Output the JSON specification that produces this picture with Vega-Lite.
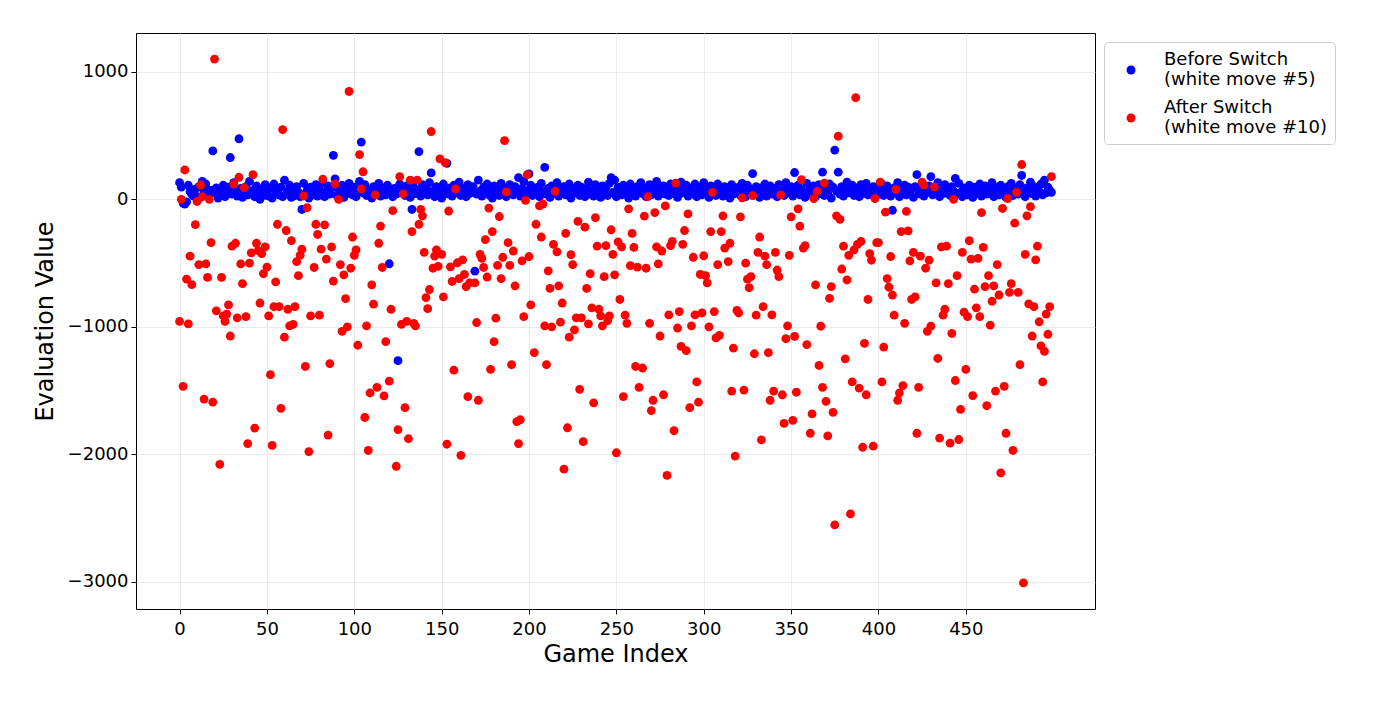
{
  "$schema": "https://vega.github.io/schema/vega-lite/v6.json",
  "description": "Evaluation value per game, before and after the switch",
  "width": 959,
  "height": 576,
  "autosize": {"type": "none"},
  "padding": {"left": 136, "top": 33, "right": 278, "bottom": 94},
  "config": {
    "font": "DejaVu Sans",
    "view": {"stroke": "black", "strokeWidth": 1},
    "axis": {
      "labelFontSize": 18,
      "labelColor": "black",
      "titleFontSize": 24,
      "titleFontWeight": "normal",
      "titleColor": "black",
      "domain": false,
      "tickColor": "black",
      "tickSize": 5,
      "gridColor": "#e6e6e6",
      "gridWidth": 0.8
    }
  },
  "datasets": {
    "before": [
      {"game":0,"value":130},{"game":1,"value":95},{"game":2,"value":-30},{"game":3,"value":-37},{"game":4,"value":-20},{"game":5,"value":110},{"game":6,"value":60},{"game":7,"value":40},{"game":8,"value":25},{"game":9,"value":80},
      {"game":10,"value":20},{"game":11,"value":100},{"game":12,"value":15},{"game":13,"value":140},{"game":14,"value":60},{"game":15,"value":120},{"game":16,"value":30},{"game":17,"value":45},{"game":18,"value":70},{"game":19,"value":380},
      {"game":20,"value":50},{"game":21,"value":90},{"game":22,"value":10},{"game":23,"value":35},{"game":24,"value":75},{"game":25,"value":110},{"game":26,"value":20},{"game":27,"value":55},{"game":28,"value":95},{"game":29,"value":328},
      {"game":30,"value":40},{"game":31,"value":130},{"game":32,"value":65},{"game":33,"value":25},{"game":34,"value":475},{"game":35,"value":85},{"game":36,"value":15},{"game":37,"value":60},{"game":38,"value":100},{"game":39,"value":35},
      {"game":40,"value":140},{"game":41,"value":45},{"game":42,"value":70},{"game":43,"value":20},{"game":44,"value":105},{"game":45,"value":55},{"game":46,"value":0},{"game":47,"value":80},{"game":48,"value":30},{"game":49,"value":115},
      {"game":50,"value":60},{"game":51,"value":25},{"game":52,"value":90},{"game":53,"value":10},{"game":54,"value":120},{"game":55,"value":50},{"game":56,"value":75},{"game":57,"value":35},{"game":58,"value":95},{"game":59,"value":20},
      {"game":60,"value":150},{"game":61,"value":40},{"game":62,"value":65},{"game":63,"value":110},{"game":64,"value":15},{"game":65,"value":85},{"game":66,"value":30},{"game":67,"value":100},{"game":68,"value":55},{"game":69,"value":20},
      {"game":70,"value":-80},{"game":71,"value":125},{"game":72,"value":45},{"game":73,"value":70},{"game":74,"value":10},{"game":75,"value":95},{"game":76,"value":60},{"game":77,"value":35},{"game":78,"value":115},{"game":79,"value":25},
      {"game":80,"value":80},{"game":81,"value":50},{"game":82,"value":130},{"game":83,"value":20},{"game":84,"value":65},{"game":85,"value":105},{"game":86,"value":40},{"game":87,"value":90},{"game":88,"value":345},{"game":89,"value":160},
      {"game":90,"value":30},{"game":91,"value":75},{"game":92,"value":55},{"game":93,"value":110},{"game":94,"value":15},{"game":95,"value":85},{"game":96,"value":45},{"game":97,"value":125},{"game":98,"value":60},{"game":99,"value":35},
      {"game":100,"value":95},{"game":101,"value":20},{"game":102,"value":70},{"game":103,"value":140},{"game":104,"value":449},{"game":105,"value":50},{"game":106,"value":115},{"game":107,"value":30},{"game":108,"value":80},{"game":109,"value":60},
      {"game":110,"value":10},{"game":111,"value":100},{"game":112,"value":45},{"game":113,"value":75},{"game":114,"value":125},{"game":115,"value":25},{"game":116,"value":90},{"game":117,"value":55},{"game":118,"value":35},{"game":119,"value":110},
      {"game":120,"value":-506},{"game":121,"value":65},{"game":122,"value":20},{"game":123,"value":85},{"game":124,"value":40},{"game":125,"value":-1266},{"game":126,"value":120},{"game":127,"value":50},{"game":128,"value":75},{"game":129,"value":30},
      {"game":130,"value":105},{"game":131,"value":60},{"game":132,"value":15},{"game":133,"value":-80},{"game":134,"value":95},{"game":135,"value":45},{"game":136,"value":70},{"game":137,"value":374},{"game":138,"value":25},{"game":139,"value":115},
      {"game":140,"value":55},{"game":141,"value":85},{"game":142,"value":35},{"game":143,"value":130},{"game":144,"value":207},{"game":145,"value":65},{"game":146,"value":20},{"game":147,"value":100},{"game":148,"value":45},{"game":149,"value":80},
      {"game":150,"value":10},{"game":151,"value":120},{"game":152,"value":60},{"game":153,"value":282},{"game":154,"value":40},{"game":155,"value":90},{"game":156,"value":25},{"game":157,"value":110},{"game":158,"value":70},{"game":159,"value":50},
      {"game":160,"value":135},{"game":161,"value":30},{"game":162,"value":85},{"game":163,"value":60},{"game":164,"value":20},{"game":165,"value":115},{"game":166,"value":45},{"game":167,"value":75},{"game":168,"value":100},{"game":169,"value":-564},
      {"game":170,"value":40},{"game":171,"value":150},{"game":172,"value":65},{"game":173,"value":25},{"game":174,"value":95},{"game":175,"value":55},{"game":176,"value":120},{"game":177,"value":35},{"game":178,"value":80},{"game":179,"value":10},
      {"game":180,"value":105},{"game":181,"value":50},{"game":182,"value":70},{"game":183,"value":30},{"game":184,"value":125},{"game":185,"value":60},{"game":186,"value":90},{"game":187,"value":20},{"game":188,"value":45},{"game":189,"value":115},
      {"game":190,"value":75},{"game":191,"value":35},{"game":192,"value":100},{"game":193,"value":55},{"game":194,"value":170},{"game":195,"value":25},{"game":196,"value":85},{"game":197,"value":140},{"game":198,"value":40},{"game":199,"value":65},
      {"game":200,"value":200},{"game":201,"value":110},{"game":202,"value":30},{"game":203,"value":80},{"game":204,"value":50},{"game":205,"value":95},{"game":206,"value":20},{"game":207,"value":125},{"game":208,"value":60},{"game":209,"value":250},
      {"game":210,"value":40},{"game":211,"value":85},{"game":212,"value":15},{"game":213,"value":105},{"game":214,"value":70},{"game":215,"value":45},{"game":216,"value":130},{"game":217,"value":25},{"game":218,"value":90},{"game":219,"value":55},
      {"game":220,"value":100},{"game":221,"value":35},{"game":222,"value":75},{"game":223,"value":120},{"game":224,"value":10},{"game":225,"value":85},{"game":226,"value":50},{"game":227,"value":65},{"game":228,"value":110},{"game":229,"value":30},
      {"game":230,"value":95},{"game":231,"value":55},{"game":232,"value":20},{"game":233,"value":80},{"game":234,"value":135},{"game":235,"value":40},{"game":236,"value":70},{"game":237,"value":25},{"game":238,"value":115},{"game":239,"value":60},
      {"game":240,"value":90},{"game":241,"value":15},{"game":242,"value":105},{"game":243,"value":45},{"game":244,"value":80},{"game":245,"value":30},{"game":246,"value":125},{"game":247,"value":170},{"game":248,"value":55},{"game":249,"value":150},
      {"game":250,"value":20},{"game":251,"value":95},{"game":252,"value":65},{"game":253,"value":35},{"game":254,"value":110},{"game":255,"value":50},{"game":256,"value":85},{"game":257,"value":10},{"game":258,"value":120},{"game":259,"value":40},
      {"game":260,"value":75},{"game":261,"value":25},{"game":262,"value":100},{"game":263,"value":60},{"game":264,"value":130},{"game":265,"value":45},{"game":266,"value":90},{"game":267,"value":20},{"game":268,"value":70},{"game":269,"value":115},
      {"game":270,"value":35},{"game":271,"value":85},{"game":272,"value":55},{"game":273,"value":140},{"game":274,"value":25},{"game":275,"value":95},{"game":276,"value":60},{"game":277,"value":105},{"game":278,"value":40},{"game":279,"value":80},
      {"game":280,"value":30},{"game":281,"value":120},{"game":282,"value":65},{"game":283,"value":45},{"game":284,"value":100},{"game":285,"value":15},{"game":286,"value":85},{"game":287,"value":135},{"game":288,"value":50},{"game":289,"value":75},
      {"game":290,"value":110},{"game":291,"value":25},{"game":292,"value":90},{"game":293,"value":60},{"game":294,"value":40},{"game":295,"value":120},{"game":296,"value":20},{"game":297,"value":70},{"game":298,"value":95},{"game":299,"value":35},
      {"game":300,"value":130},{"game":301,"value":55},{"game":302,"value":80},{"game":303,"value":15},{"game":304,"value":105},{"game":305,"value":45},{"game":306,"value":70},{"game":307,"value":30},{"game":308,"value":120},{"game":309,"value":60},
      {"game":310,"value":90},{"game":311,"value":25},{"game":312,"value":100},{"game":313,"value":50},{"game":314,"value":85},{"game":315,"value":10},{"game":316,"value":115},{"game":317,"value":40},{"game":318,"value":75},{"game":319,"value":55},
      {"game":320,"value":95},{"game":321,"value":30},{"game":322,"value":125},{"game":323,"value":65},{"game":324,"value":20},{"game":325,"value":110},{"game":326,"value":45},{"game":327,"value":80},{"game":328,"value":201},{"game":329,"value":35},
      {"game":330,"value":100},{"game":331,"value":60},{"game":332,"value":15},{"game":333,"value":90},{"game":334,"value":50},{"game":335,"value":120},{"game":336,"value":25},{"game":337,"value":75},{"game":338,"value":105},{"game":339,"value":40},
      {"game":340,"value":85},{"game":341,"value":60},{"game":342,"value":20},{"game":343,"value":115},{"game":344,"value":45},{"game":345,"value":95},{"game":346,"value":30},{"game":347,"value":130},{"game":348,"value":70},{"game":349,"value":50},
      {"game":350,"value":100},{"game":351,"value":25},{"game":352,"value":210},{"game":353,"value":65},{"game":354,"value":110},{"game":355,"value":35},{"game":356,"value":80},{"game":357,"value":55},{"game":358,"value":15},{"game":359,"value":125},
      {"game":360,"value":40},{"game":361,"value":90},{"game":362,"value":60},{"game":363,"value":105},{"game":364,"value":20},{"game":365,"value":75},{"game":366,"value":115},{"game":367,"value":45},{"game":368,"value":213},{"game":369,"value":30},
      {"game":370,"value":85},{"game":371,"value":55},{"game":372,"value":120},{"game":373,"value":10},{"game":374,"value":95},{"game":375,"value":386},{"game":376,"value":65},{"game":377,"value":213},{"game":378,"value":40},{"game":379,"value":100},
      {"game":380,"value":25},{"game":381,"value":80},{"game":382,"value":135},{"game":383,"value":50},{"game":384,"value":70},{"game":385,"value":110},{"game":386,"value":30},{"game":387,"value":90},{"game":388,"value":60},{"game":389,"value":20},
      {"game":390,"value":115},{"game":391,"value":45},{"game":392,"value":85},{"game":393,"value":125},{"game":394,"value":35},{"game":395,"value":75},{"game":396,"value":55},{"game":397,"value":100},{"game":398,"value":15},{"game":399,"value":95},
      {"game":400,"value":65},{"game":401,"value":40},{"game":402,"value":120},{"game":403,"value":30},{"game":404,"value":80},{"game":405,"value":105},{"game":406,"value":50},{"game":407,"value":25},{"game":408,"value":-86},{"game":409,"value":90},
      {"game":410,"value":60},{"game":411,"value":130},{"game":412,"value":20},{"game":413,"value":75},{"game":414,"value":45},{"game":415,"value":110},{"game":416,"value":35},{"game":417,"value":95},{"game":418,"value":55},{"game":419,"value":85},
      {"game":420,"value":15},{"game":421,"value":100},{"game":422,"value":193},{"game":423,"value":65},{"game":424,"value":40},{"game":425,"value":120},{"game":426,"value":25},{"game":427,"value":80},{"game":428,"value":55},{"game":429,"value":105},
      {"game":430,"value":178},{"game":431,"value":35},{"game":432,"value":90},{"game":433,"value":60},{"game":434,"value":130},{"game":435,"value":20},{"game":436,"value":70},{"game":437,"value":45},{"game":438,"value":115},{"game":439,"value":50},
      {"game":440,"value":85},{"game":441,"value":30},{"game":442,"value":100},{"game":443,"value":65},{"game":444,"value":164},{"game":445,"value":40},{"game":446,"value":125},{"game":447,"value":55},{"game":448,"value":20},{"game":449,"value":90},
      {"game":450,"value":75},{"game":451,"value":35},{"game":452,"value":110},{"game":453,"value":60},{"game":454,"value":15},{"game":455,"value":95},{"game":456,"value":45},{"game":457,"value":80},{"game":458,"value":120},{"game":459,"value":25},
      {"game":460,"value":70},{"game":461,"value":105},{"game":462,"value":40},{"game":463,"value":85},{"game":464,"value":55},{"game":465,"value":130},{"game":466,"value":20},{"game":467,"value":95},{"game":468,"value":60},{"game":469,"value":35},
      {"game":470,"value":110},{"game":471,"value":45},{"game":472,"value":75},{"game":473,"value":15},{"game":474,"value":100},{"game":475,"value":50},{"game":476,"value":125},{"game":477,"value":30},{"game":478,"value":85},{"game":479,"value":65},
      {"game":480,"value":40},{"game":481,"value":115},{"game":482,"value":187},{"game":483,"value":55},{"game":484,"value":20},{"game":485,"value":90},{"game":486,"value":70},{"game":487,"value":135},{"game":488,"value":45},{"game":489,"value":100},
      {"game":490,"value":25},{"game":491,"value":80},{"game":492,"value":60},{"game":493,"value":120},{"game":494,"value":35},{"game":495,"value":150},{"game":496,"value":50},{"game":497,"value":95},{"game":498,"value":70},{"game":499,"value":55}
    ],
    "after": [
      {"game":0,"value":-958},{"game":1,"value":0},{"game":2,"value":-1468},{"game":3,"value":230},{"game":4,"value":-627},{"game":5,"value":-978},{"game":6,"value":-446},{"game":7,"value":-670},{"game":9,"value":-199},
      {"game":10,"value":-17},{"game":11,"value":-512},{"game":12,"value":112},{"game":13,"value":20},{"game":14,"value":-1568},{"game":15,"value":-507},{"game":16,"value":-613},{"game":17,"value":0},{"game":18,"value":-340},{"game":19,"value":-1592},
      {"game":20,"value":1100},{"game":21,"value":-875},{"game":23,"value":-2080},{"game":24,"value":-613},{"game":25,"value":-915},{"game":26,"value":-958},{"game":27,"value":-901},{"game":28,"value":-829},{"game":29,"value":-1073},
      {"game":30,"value":-368},{"game":31,"value":120},{"game":32,"value":-345},{"game":33,"value":-930},{"game":34,"value":173},{"game":35,"value":-507},{"game":36,"value":-662},{"game":37,"value":92},{"game":38,"value":-921},{"game":39,"value":-1917},
      {"game":40,"value":-501},{"game":41,"value":-420},{"game":42,"value":193},{"game":43,"value":-1795},{"game":44,"value":-345},{"game":45,"value":-403},{"game":46,"value":-814},{"game":47,"value":-426},{"game":48,"value":-584},{"game":49,"value":-374},
      {"game":50,"value":-532},{"game":51,"value":-915},{"game":52,"value":-1376},{"game":53,"value":-1931},{"game":54,"value":-843},{"game":55,"value":-648},{"game":56,"value":-196},{"game":57,"value":-843},{"game":58,"value":-1640},{"game":59,"value":547},
      {"game":60,"value":-1082},{"game":61,"value":-245},{"game":62,"value":-863},{"game":63,"value":-993},{"game":64,"value":-325},{"game":65,"value":-981},{"game":66,"value":-843},{"game":67,"value":-489},{"game":68,"value":-599},{"game":69,"value":-440},
      {"game":70,"value":-391},{"game":71,"value":26},{"game":72,"value":-1312},{"game":73,"value":-66},{"game":74,"value":-1980},{"game":75,"value":-915},{"game":77,"value":-535},{"game":78,"value":-196},{"game":79,"value":-276},
      {"game":80,"value":-909},{"game":81,"value":-391},{"game":82,"value":158},{"game":83,"value":-201},{"game":84,"value":-469},{"game":85,"value":-1850},{"game":86,"value":-1289},{"game":87,"value":-374},{"game":88,"value":-642},{"game":89,"value":121},
      {"game":91,"value":0},{"game":92,"value":-512},{"game":93,"value":-1036},{"game":94,"value":-593},{"game":95,"value":-780},{"game":96,"value":-1001},{"game":97,"value":846},{"game":98,"value":-541},{"game":99,"value":-296},
      {"game":100,"value":-440},{"game":101,"value":-397},{"game":102,"value":-1145},{"game":103,"value":351},{"game":104,"value":81},{"game":105,"value":216},{"game":106,"value":-1712},{"game":107,"value":-993},{"game":108,"value":-1971},{"game":109,"value":-1520},
      {"game":110,"value":-671},{"game":111,"value":-823},{"game":112,"value":35},{"game":113,"value":-1476},{"game":114,"value":-345},{"game":115,"value":-210},{"game":116,"value":-535},{"game":117,"value":-1543},{"game":118,"value":-1117},
      {"game":120,"value":-1427},{"game":121,"value":-863},{"game":122,"value":-89},{"game":124,"value":-2095},{"game":125,"value":-1807},{"game":126,"value":178},{"game":127,"value":-981},{"game":128,"value":43},{"game":129,"value":-1635},
      {"game":130,"value":-958},{"game":131,"value":-1879},{"game":132,"value":150},{"game":133,"value":-253},{"game":134,"value":-973},{"game":135,"value":-993},{"game":136,"value":150},{"game":137,"value":-196},{"game":138,"value":-80},{"game":139,"value":-130},
      {"game":140,"value":-417},{"game":141,"value":-771},{"game":142,"value":-858},{"game":143,"value":-708},{"game":144,"value":532},{"game":145,"value":-541},{"game":146,"value":-446},{"game":147,"value":-397},{"game":148,"value":-527},{"game":149,"value":317},
      {"game":150,"value":-432},{"game":151,"value":-766},{"game":152,"value":288},{"game":153,"value":-1922},{"game":154,"value":-92},{"game":155,"value":-530},{"game":156,"value":-645},{"game":157,"value":-1341},{"game":158,"value":81},{"game":159,"value":-498},
      {"game":160,"value":-622},{"game":161,"value":-2009},{"game":162,"value":-475},{"game":163,"value":-590},{"game":164,"value":-685},{"game":165,"value":-1548},{"game":166,"value":-656},{"game":169,"value":-656},
      {"game":170,"value":-967},{"game":171,"value":-1577},{"game":172,"value":-432},{"game":173,"value":-463},{"game":174,"value":-535},{"game":175,"value":-317},{"game":176,"value":-610},{"game":177,"value":-69},{"game":178,"value":-1335},{"game":179,"value":-253},
      {"game":180,"value":-1117},{"game":181,"value":-933},{"game":182,"value":-518},{"game":183,"value":-135},{"game":184,"value":-622},{"game":185,"value":-455},{"game":186,"value":460},{"game":187,"value":58},{"game":188,"value":-340},{"game":189,"value":-518},
      {"game":190,"value":-1298},{"game":191,"value":-406},{"game":192,"value":-679},{"game":193,"value":-1744},{"game":194,"value":-1917},{"game":195,"value":-1730},{"game":196,"value":-483},{"game":197,"value":-921},{"game":198,"value":-9},{"game":199,"value":193},
      {"game":200,"value":-449},{"game":201,"value":-829},{"game":203,"value":-1203},{"game":204,"value":-196},{"game":206,"value":-52},{"game":207,"value":-296},{"game":208,"value":-37},{"game":209,"value":-993},
      {"game":210,"value":-1298},{"game":211,"value":-561},{"game":212,"value":-699},{"game":213,"value":-1001},{"game":214,"value":-354},{"game":215,"value":63},{"game":216,"value":-412},{"game":217,"value":-679},{"game":218,"value":-964},{"game":219,"value":-814},
      {"game":220,"value":-2118},{"game":221,"value":-268},{"game":222,"value":-1793},{"game":223,"value":-1082},{"game":224,"value":-435},{"game":225,"value":-512},{"game":226,"value":-1024},{"game":227,"value":-930},{"game":228,"value":-173},{"game":229,"value":-1491},
      {"game":230,"value":-930},{"game":231,"value":-1902},{"game":232,"value":-219},{"game":233,"value":-699},{"game":234,"value":-978},{"game":235,"value":-584},{"game":236,"value":-852},{"game":237,"value":-1597},{"game":238,"value":-144},{"game":239,"value":-368},
      {"game":240,"value":-863},{"game":241,"value":-915},{"game":242,"value":-993},{"game":243,"value":-607},{"game":244,"value":-363},{"game":245,"value":-953},{"game":246,"value":-915},{"game":247,"value":-239},{"game":248,"value":-432},{"game":249,"value":-593},
      {"game":250,"value":-1989},{"game":251,"value":-334},{"game":252,"value":-786},{"game":253,"value":-374},{"game":254,"value":-1548},{"game":255,"value":-909},{"game":256,"value":-973},{"game":257,"value":-75},{"game":258,"value":-521},{"game":259,"value":-268},
      {"game":260,"value":-377},{"game":261,"value":-1312},{"game":262,"value":-532},{"game":263,"value":-1476},{"game":265,"value":-1324},{"game":266,"value":-132},{"game":267,"value":-541},{"game":268,"value":20},{"game":269,"value":-973},
      {"game":270,"value":-1658},{"game":271,"value":-1577},{"game":272,"value":-104},{"game":273,"value":-374},{"game":274,"value":-507},{"game":275,"value":-1073},{"game":276,"value":-406},{"game":277,"value":-1534},{"game":278,"value":-52},{"game":279,"value":-2167},
      {"game":280,"value":-907},{"game":281,"value":-363},{"game":282,"value":-331},{"game":283,"value":-1816},{"game":284,"value":127},{"game":285,"value":-1010},{"game":286,"value":-881},{"game":287,"value":-1154},{"game":288,"value":-354},{"game":289,"value":-245},
      {"game":290,"value":-1188},{"game":291,"value":-115},{"game":292,"value":-1635},{"game":293,"value":-993},{"game":294,"value":-455},{"game":295,"value":-907},{"game":296,"value":-1433},{"game":297,"value":-1592},{"game":298,"value":-590},{"game":299,"value":-892},
      {"game":300,"value":-443},{"game":301,"value":-599},{"game":302,"value":-656},{"game":303,"value":-1001},{"game":304,"value":-253},{"game":305,"value":55},{"game":306,"value":-881},{"game":307,"value":-1088},{"game":308,"value":-512},{"game":309,"value":-1068},
      {"game":310,"value":-253},{"game":311,"value":-130},{"game":312,"value":-383},{"game":314,"value":-489},{"game":315,"value":-345},{"game":316,"value":-1505},{"game":317,"value":-1168},{"game":318,"value":-2015},{"game":319,"value":-872},
      {"game":320,"value":-892},{"game":321,"value":-138},{"game":322,"value":12},{"game":323,"value":-1497},{"game":324,"value":-501},{"game":325,"value":-627},{"game":326,"value":-694},{"game":327,"value":-607},{"game":328,"value":29},{"game":329,"value":-1212},
      {"game":330,"value":-909},{"game":331,"value":-417},{"game":332,"value":-296},{"game":333,"value":-1888},{"game":334,"value":-843},{"game":335,"value":-446},{"game":336,"value":-512},{"game":337,"value":-1203},{"game":338,"value":-1577},{"game":339,"value":-907},
      {"game":340,"value":-1505},{"game":341,"value":-417},{"game":342,"value":-555},{"game":343,"value":-607},{"game":344,"value":35},{"game":345,"value":-1534},{"game":346,"value":-1758},{"game":347,"value":-1094},{"game":348,"value":-993},{"game":349,"value":-440},
      {"game":350,"value":-138},{"game":351,"value":-1735},{"game":352,"value":-1076},{"game":353,"value":-1514},{"game":354,"value":-75},{"game":355,"value":-210},{"game":356,"value":155},{"game":357,"value":-383},{"game":358,"value":-363},{"game":359,"value":-1140},
      {"game":361,"value":-1836},{"game":362,"value":-1684},{"game":363,"value":6},{"game":364,"value":-671},{"game":365,"value":63},{"game":366,"value":-1304},{"game":367,"value":-996},{"game":368,"value":-1476},{"game":369,"value":127},
      {"game":370,"value":-1586},{"game":371,"value":-1856},{"game":372,"value":-777},{"game":373,"value":-685},{"game":374,"value":-1672},{"game":375,"value":-2555},{"game":376,"value":-130},{"game":377,"value":495},{"game":378,"value":-158},{"game":379,"value":-547},
      {"game":380,"value":-368},{"game":381,"value":-1252},{"game":382,"value":-633},{"game":383,"value":-440},{"game":384,"value":-2469},{"game":385,"value":-1433},{"game":386,"value":-397},{"game":387,"value":797},{"game":388,"value":-354},{"game":389,"value":-1482},
      {"game":390,"value":-331},{"game":391,"value":-1946},{"game":392,"value":-1131},{"game":393,"value":-1534},{"game":394,"value":-786},{"game":395,"value":-426},{"game":396,"value":-478},{"game":397,"value":-1937},{"game":398,"value":6},{"game":399,"value":-340},
      {"game":400,"value":-340},{"game":401,"value":135},{"game":402,"value":-1433},{"game":403,"value":-1160},{"game":404,"value":-101},{"game":405,"value":-622},{"game":406,"value":-690},{"game":407,"value":-449},{"game":408,"value":-751},{"game":409,"value":-909},
      {"game":410,"value":78},{"game":411,"value":-1577},{"game":412,"value":-1520},{"game":413,"value":-253},{"game":414,"value":-1462},{"game":415,"value":-973},{"game":416,"value":-95},{"game":417,"value":-248},{"game":418,"value":-483},{"game":419,"value":-786},
      {"game":420,"value":-417},{"game":421,"value":-766},{"game":422,"value":-1836},{"game":423,"value":-1476},{"game":424,"value":-446},{"game":425,"value":135},{"game":426,"value":112},{"game":427,"value":-541},{"game":428,"value":-1036},{"game":429,"value":-478},
      {"game":430,"value":-996},{"game":432,"value":98},{"game":433,"value":-656},{"game":434,"value":-1249},{"game":435,"value":-1874},{"game":436,"value":-374},{"game":437,"value":-909},{"game":438,"value":-863},{"game":439,"value":-368},
      {"game":440,"value":-662},{"game":441,"value":-1914},{"game":442,"value":-1053},{"game":443,"value":0},{"game":444,"value":-1422},{"game":445,"value":-599},{"game":446,"value":-1885},{"game":447,"value":-1649},{"game":448,"value":-417},{"game":449,"value":-886},
      {"game":450,"value":-1335},{"game":451,"value":-921},{"game":452,"value":-325},{"game":453,"value":-469},{"game":454,"value":-1540},{"game":455,"value":-705},{"game":456,"value":-852},{"game":457,"value":-463},{"game":458,"value":-921},{"game":459,"value":-104},
      {"game":460,"value":-377},{"game":461,"value":-685},{"game":462,"value":-1620},{"game":463,"value":-599},{"game":464,"value":-987},{"game":465,"value":-800},{"game":466,"value":-679},{"game":467,"value":-1505},{"game":468,"value":-512},{"game":469,"value":-751},
      {"game":470,"value":-2147},{"game":471,"value":-72},{"game":472,"value":-1468},{"game":473,"value":-1836},{"game":474,"value":6},{"game":475,"value":-731},{"game":476,"value":-662},{"game":477,"value":-1971},{"game":478,"value":-187},{"game":479,"value":55},
      {"game":480,"value":-731},{"game":481,"value":-1298},{"game":482,"value":273},{"game":483,"value":-3010},{"game":484,"value":-432},{"game":485,"value":-130},{"game":486,"value":-820},{"game":487,"value":-58},{"game":488,"value":-1073},{"game":489,"value":-843},
      {"game":490,"value":-475},{"game":491,"value":-368},{"game":492,"value":-961},{"game":493,"value":-1151},{"game":494,"value":-1433},{"game":495,"value":-1194},{"game":496,"value":-901},{"game":497,"value":-1059},{"game":498,"value":-843},{"game":499,"value":178}
    ]
  },
  "encoding": {
    "x": {
      "field": "game",
      "type": "quantitative",
      "title": "Game Index",
      "scale": {"domain": [-24.95, 523.95], "nice": false, "zero": false},
      "axis": {"values": [0, 50, 100, 150, 200, 250, 300, 350, 400, 450], "titlePadding": 4, "labelPadding": 6}
    },
    "y": {
      "field": "value",
      "type": "quantitative",
      "title": "Evaluation Value",
      "scale": {"domain": [-3215, 1305], "nice": false, "zero": false},
      "axis": {
        "values": [-3000, -2000, -1000, 0, 1000],
        "format": "d",
        "labelExpr": "replace(datum.label, '-', '\u2212')",
        "titlePadding": 10,
        "labelPadding": 3
      }
    }
  },
  "layer": [
    {
      "data": {"name": "before"},
      "mark": {"type": "circle", "size": 78, "opacity": 1},
      "encoding": {
        "color": {
          "datum": "Before Switch|(white move #5)",
          "type": "nominal",
          "scale": {
            "domain": ["Before Switch|(white move #5)", "After Switch|(white move #10)"],
            "range": ["#0000ff", "#ff0000"]
          },
          "legend": {
            "title": " ",
            "titleFontSize": 2,
            "titlePadding": 10,
            "orient": "none",
            "legendX": 968,
            "legendY": 9,
            "direction": "vertical",
            "labelExpr": "split(datum.label, '|')",
            "labelFontSize": 18,
            "labelColor": "black",
            "labelLimit": 400,
            "labelOffset": 24,
            "labelBaseline": "line-bottom",
            "symbolType": "circle",
            "symbolSize": 80,
            "symbolOffset": 11,
            "symbolOpacity": 1,
            "symbolStrokeWidth": 0,
            "rowPadding": 10,
            "padding": 7,
            "strokeColor": "#cccccc",
            "fillColor": "white",
            "cornerRadius": 4
          }
        }
      }
    },
    {
      "data": {"name": "after"},
      "mark": {"type": "circle", "size": 78, "opacity": 1},
      "encoding": {
        "color": {"datum": "After Switch|(white move #10)", "type": "nominal"}
      }
    }
  ]
}
